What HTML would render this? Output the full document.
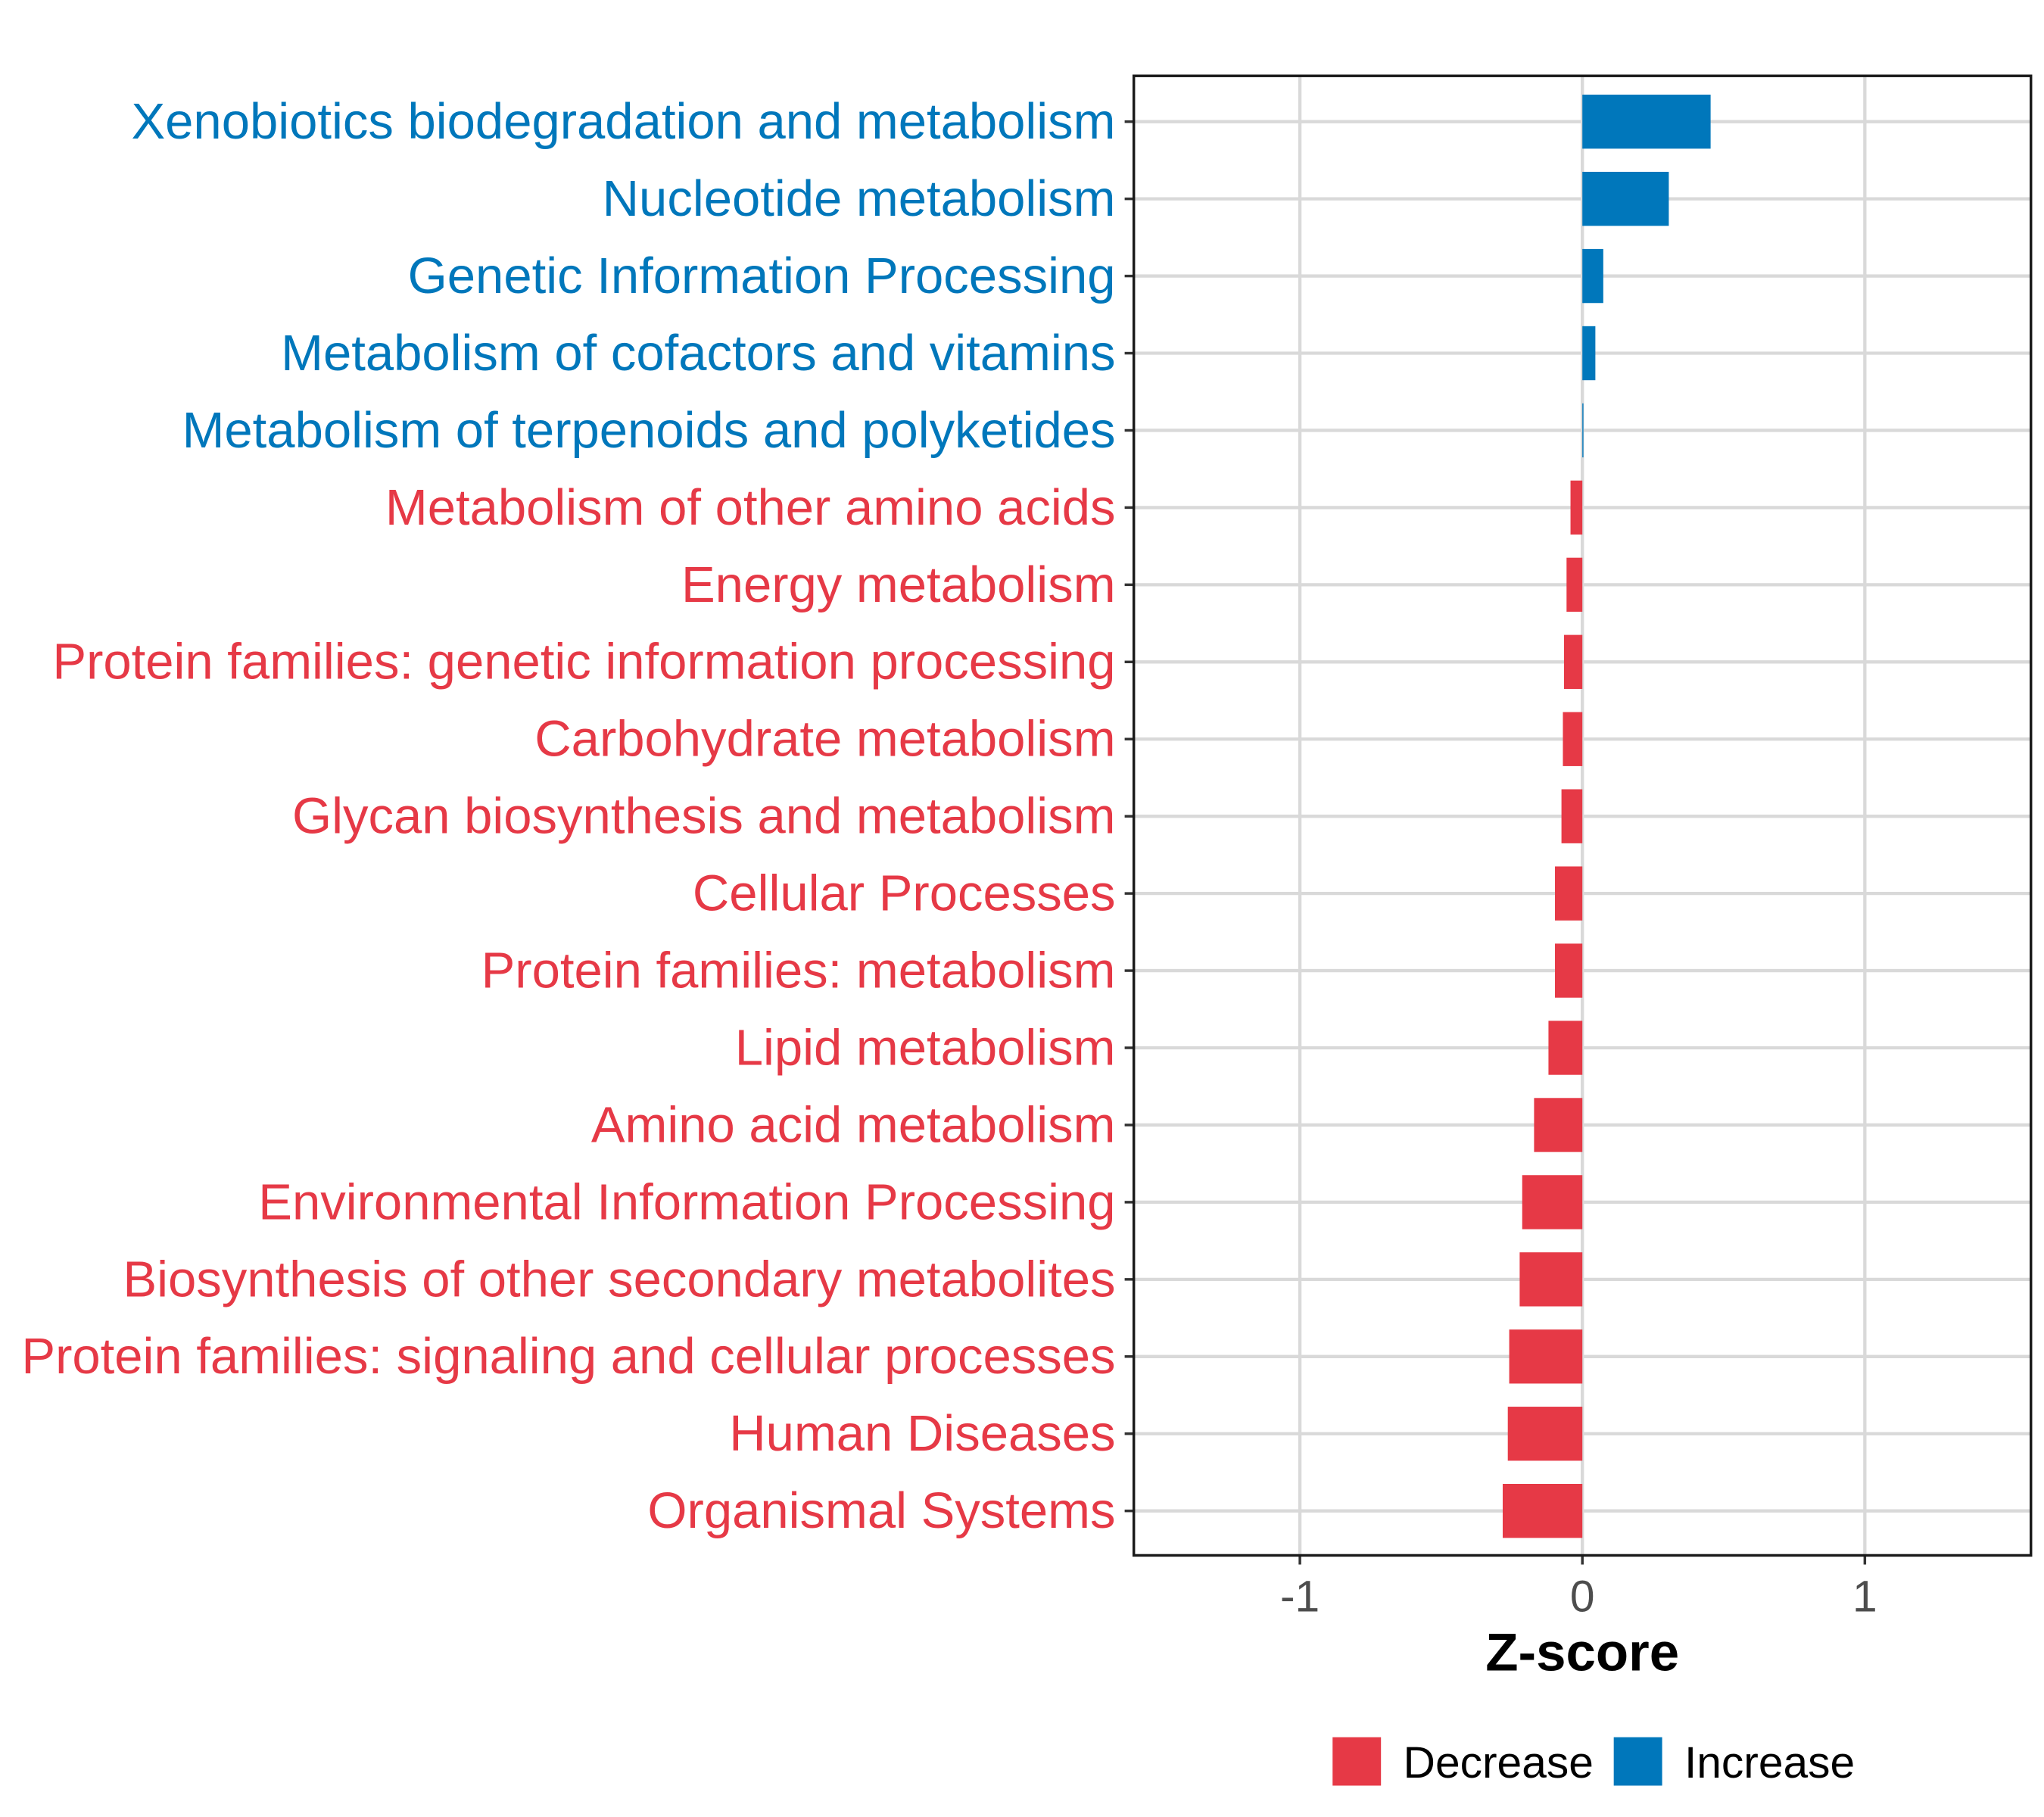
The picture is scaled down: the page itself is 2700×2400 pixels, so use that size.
<!DOCTYPE html>
<html><head><meta charset="utf-8"><style>
html,body{margin:0;padding:0;background:#fff;}
svg{display:block;font-family:"Liberation Sans",Arial,sans-serif;}
</style></head><body>
<svg id="chart" width="2700" height="2400" viewBox="0 0 1563 1389" preserveAspectRatio="none" xmlns="http://www.w3.org/2000/svg">
<rect width="1563" height="1389" fill="#fff"/>
<g id="grid"></g><g id="bars"></g><g id="axes"></g>
</svg>
<script>
const categories=["Xenobiotics biodegradation and metabolism","Nucleotide metabolism","Genetic Information Processing","Metabolism of cofactors and vitamins","Metabolism of terpenoids and polyketides","Metabolism of other amino acids","Energy metabolism","Protein families: genetic information processing","Carbohydrate metabolism","Glycan biosynthesis and metabolism","Cellular Processes","Protein families: metabolism","Lipid metabolism","Amino acid metabolism","Environmental Information Processing","Biosynthesis of other secondary metabolites","Protein families: signaling and cellular processes","Human Diseases","Organismal Systems"];
const zscores=[0.454,0.306,0.074,0.046,0.003,-0.042,-0.056,-0.065,-0.069,-0.074,-0.097,-0.097,-0.12,-0.171,-0.213,-0.222,-0.259,-0.264,-0.282];
const xTicks=[-1,0,1];
const xTickLabels=["-1","0","1"];
const legendLabels=["Decrease","Increase"];
const RED="#e63946",BLUE="#0077bb";
const NS="http://www.w3.org/2000/svg";
const P={x0:867,x1:1553,y0:58,y1:1189};
function xs(v){return 1210+v*216;}
function ys(i){return 93+i*59;}
function mk(t,a,p,txt){const e=document.createElementNS(NS,t);for(const k in a)e.setAttribute(k,a[k]);if(txt!==undefined)e.textContent=txt;p.appendChild(e);return e;}
const grid=document.getElementById('grid'),bars=document.getElementById('bars'),axes=document.getElementById('axes');
xTicks.forEach(t=>{const l=mk('line',{x1:xs(t),x2:xs(t),y1:P.y0,y2:P.y1,stroke:'#d9d9d9','stroke-width':2.5},grid);

});
categories.forEach((c,i)=>{const l=mk('line',{x1:P.x0,x2:P.x1,y1:ys(i),y2:ys(i),stroke:'#d9d9d9','stroke-width':2.5},grid);

});
categories.forEach((c,i)=>{const v=zscores[i];const col=v>=0?BLUE:RED;const bh=41.3;
const x=Math.min(xs(0),xs(v)),w=Math.max(Math.abs(xs(v)-xs(0)),0.8);
const r=mk('rect',{x:x,y:ys(i)-bh/2,width:w,height:bh,fill:col},bars);


const t=mk('text',{x:853,y:ys(i)+13,'text-anchor':'end','font-size':38.8,fill:col},axes,c);


const tk=mk('line',{x1:860,x2:867,y1:ys(i),y2:ys(i),stroke:'#333','stroke-width':2},axes);

});
xTicks.forEach((t,i)=>{const tk=mk('line',{x1:xs(t),x2:xs(t),y1:1189,y2:1196,stroke:'#333','stroke-width':2},axes);


const tl=mk('text',{x:xs(t),y:1232,'text-anchor':'middle','font-size':34,fill:'#4d4d4d'},axes,xTickLabels[i]);

});
const fr=mk('rect',{x:P.x0,y:P.y0,width:P.x1-P.x0,height:P.y1-P.y0,fill:'none',stroke:'#1a1a1a','stroke-width':2},axes);


const xt=mk('text',{x:1210,y:1277,'text-anchor':'middle','font-size':41,'font-weight':'bold',fill:'#000'},axes,'Z-score');


[[1019,RED,1073],[1234,BLUE,1288]].forEach((L,i)=>{
const b=mk('rect',{x:L[0],y:1328,width:37,height:37,fill:L[1]},axes);


const t=mk('text',{x:L[2],y:1359,'font-size':34,fill:'#000'},axes,legendLabels[i]);

});
</script>
</body></html>
